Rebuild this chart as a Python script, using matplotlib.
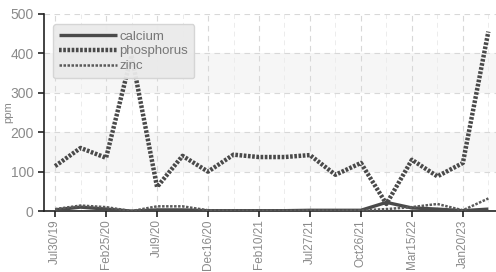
import numpy as np
import matplotlib
matplotlib.use("Agg")
import matplotlib.pyplot as plt
from matplotlib.patches import Rectangle

# ── data ─────────────────────────────────────────────────────────────────
dates = ["Jul30/19", "", "Feb25/20", "", "Jul9/20", "", "Dec16/20", "",
         "Feb10/21", "", "Jul27/21", "", "Oct26/21", "", "Mar15/22", "",
         "Jan20/23", ""]
calcium    = [3, 10, 5, 0, 3, 3, 1, 1, 1, 1, 2, 2, 2, 22, 8, 5, 1, 5]
phosphorus = [114, 160, 135, 395, 61, 140, 100, 143, 137, 137, 142, 92,
              122, 18, 130, 88, 122, 455]
zinc       = [5, 14, 10, 0, 12, 12, 2, 1, 1, 1, 2, 1, 2, 5, 10, 18, 2, 32]

TICK_COL = "#8a8a8a"
LINE_COL = "#4a4a4a"
GRID_COL = "#d8d8d8"

plt.rcParams["font.family"] = ["Liberation Sans", "DejaVu Sans"]

fig = plt.figure(figsize=(4.96, 2.72), dpi=100, facecolor="white")
ax = fig.add_axes([0.089, 0.224, 0.911, 0.725])

x = np.arange(len(dates))

# alternating background bands
for lo in (100, 300):
    ax.add_patch(Rectangle((-1, lo), 30, 100, facecolor="#f6f6f6",
                           edgecolor="none", zorder=0))

ax.plot(x, calcium, color=LINE_COL, lw=2.4, solid_capstyle="butt",
        label="calcium", zorder=3)
ax.plot(x, phosphorus, color=LINE_COL, lw=3.2, linestyle=(0, (0.6, 0.35)),
        label="phosphorus", zorder=4)
ax.plot(x, zinc, color="#5a5a5a", lw=1.8, linestyle=(0, (1.0, 0.6)),
        label="zinc", zorder=3)

ax.set_xlim(-0.43, 17.3)
ax.set_ylim(0, 500)
ax.set_yticks([0, 100, 200, 300, 400, 500])
ax.set_xticks(x[::2])
ax.set_xticklabels([d for d in dates[::2]], rotation=90)
ax.set_xticks(x[1::2], minor=True)

ax.grid(True, which="major", color=GRID_COL, linestyle=(0, (5, 4)), lw=0.8)
ax.grid(True, which="minor", axis="x", color="#ececec",
        linestyle=(0, (5, 4)), lw=0.7)
ax.set_axisbelow(True)

ax.tick_params(axis="y", colors="#222222", labelcolor=TICK_COL,
               labelsize=10, length=4, width=1.2)
ax.tick_params(axis="x", colors="#222222", labelcolor=TICK_COL,
               labelsize=8.5, length=4, width=1.2, pad=2)
ax.tick_params(axis="x", which="minor", length=0)
ax.set_ylabel("ppm", color=TICK_COL, fontsize=8)
ax.yaxis.set_label_coords(-0.068, 0.5)

for side in ("top", "right"):
    ax.spines[side].set_visible(False)
for side in ("left", "bottom"):
    ax.spines[side].set_color("#222222")
    ax.spines[side].set_linewidth(1.2)

leg = ax.legend(loc="upper left", bbox_to_anchor=(0.005, 0.98),
                fontsize=9.5, frameon=True, fancybox=True, shadow=False,
                handlelength=4.4, handletextpad=0.2, labelspacing=0.2,
                borderpad=0.45)
leg.get_frame().set_facecolor("#eaeaea")
leg.get_frame().set_edgecolor("#d4d4d4")
leg.get_frame().set_alpha(0.95)
for t in leg.get_texts():
    t.set_color("#777777")
leg.set_zorder(10)

fig.savefig("out.png", dpi=100)
